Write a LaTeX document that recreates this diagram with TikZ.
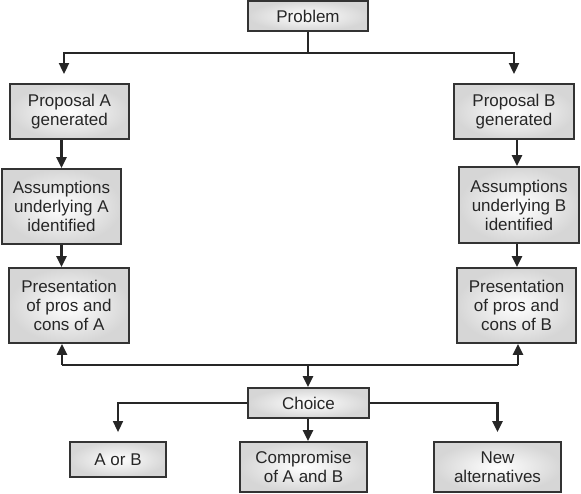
\documentclass[tikz,border=0pt]{standalone}
\usepackage{fontspec}
\setmainfont{Liberation Sans}
\usetikzlibrary{arrows.meta,shadings}

\begin{document}
\begin{tikzpicture}[x=1pt,y=-1pt]
\tikzstyle{bx}=[rectangle,draw=black!80,line width=1.8pt,inner color=white,outer color=black!16,text=black!85,align=center,inner sep=0pt,font=\fontsize{17}{19}\selectfont]
\tikzstyle{ln}=[draw=black!85,line width=1.8pt]
\tikzstyle{arr}=[ln,line width=2.2pt,-{Triangle[length=11pt,width=10pt]}]
\useasboundingbox (0,0) rectangle (581,494);
\node[bx, minimum width=120pt, minimum height=30pt] (prob)   at (308,16)    {Problem};
\node[bx, minimum width=119pt, minimum height=55pt] (propA)  at (69.5,111.5) {Proposal A\\generated};
\node[bx, minimum width=120pt, minimum height=55pt] (propB)  at (514,111.5) {Proposal B\\generated};
\node[bx, minimum width=119pt, minimum height=75pt] (assA)   at (61.5,206.5) {Assumptions\\underlying A\\identified};
\node[bx, minimum width=120pt, minimum height=76pt] (assB)   at (519,205)   {Assumptions\\underlying B\\identified};
\node[bx, minimum width=120pt, minimum height=75pt] (presA)  at (69,305.5)  {Presentation\\of pros and\\cons of A};
\node[bx, minimum width=119pt, minimum height=75pt] (presB)  at (516.5,305.5) {Presentation\\of pros and\\cons of B};
\node[bx, minimum width=121pt, minimum height=30pt] (choice) at (308.5,403) {Choice};
\node[bx, minimum width=96pt,  minimum height=35pt] (aorb)   at (118,459.5) {A or B};
\node[bx, minimum width=127pt, minimum height=50pt] (comp)   at (303.5,467) {Compromise\\of A and B};
\node[bx, minimum width=127pt, minimum height=50pt] (newalt) at (497.5,467) {New\\alternatives};
% problem splits in two
\draw[ln] (prob.south) -- ++(0,21) coordinate (top);
\draw[arr, line width=1.8pt, shorten >=9pt] (top) -| ([xshift=-5.5pt]propA.north);
\draw[arr, line width=1.8pt, shorten >=9pt] (top) -| (propB.north);
% left column
\draw[arr] (assA.north |- propA.south) -- (assA.north);
\draw[arr] (assA.south) -- (assA.south |- presA.north);
% right column
\draw[arr] ([xshift=-2pt]assB.north |- propB.south) -- ([xshift=-2pt]assB.north);
\draw[arr] ([xshift=-2pt]assB.south) -- ([xshift=-2pt]assB.south |- presB.north);
% bar between the presentations
\coordinate (bar) at (308,365);
\draw[ln] ([xshift=-7pt]presA.south |- bar) -- ([xshift=1.5pt]presB.south |- bar);
\draw[arr] ([xshift=-7pt]presA.south |- bar) -- ([xshift=-7pt]presA.south);
\draw[arr] ([xshift=1.5pt]presB.south |- bar) -- ([xshift=1.5pt]presB.south);
\draw[arr] (bar) -- (bar |- choice.north);
% outcomes
\draw[arr, line width=1.6pt, shorten >=9pt] (choice.west) -| (aorb.north);
\draw[arr] (choice.south -| bar) -- (bar |- comp.north);
\draw[arr, shorten >=9pt] (choice.east) -| (newalt.north);
\end{tikzpicture}
\end{document}
